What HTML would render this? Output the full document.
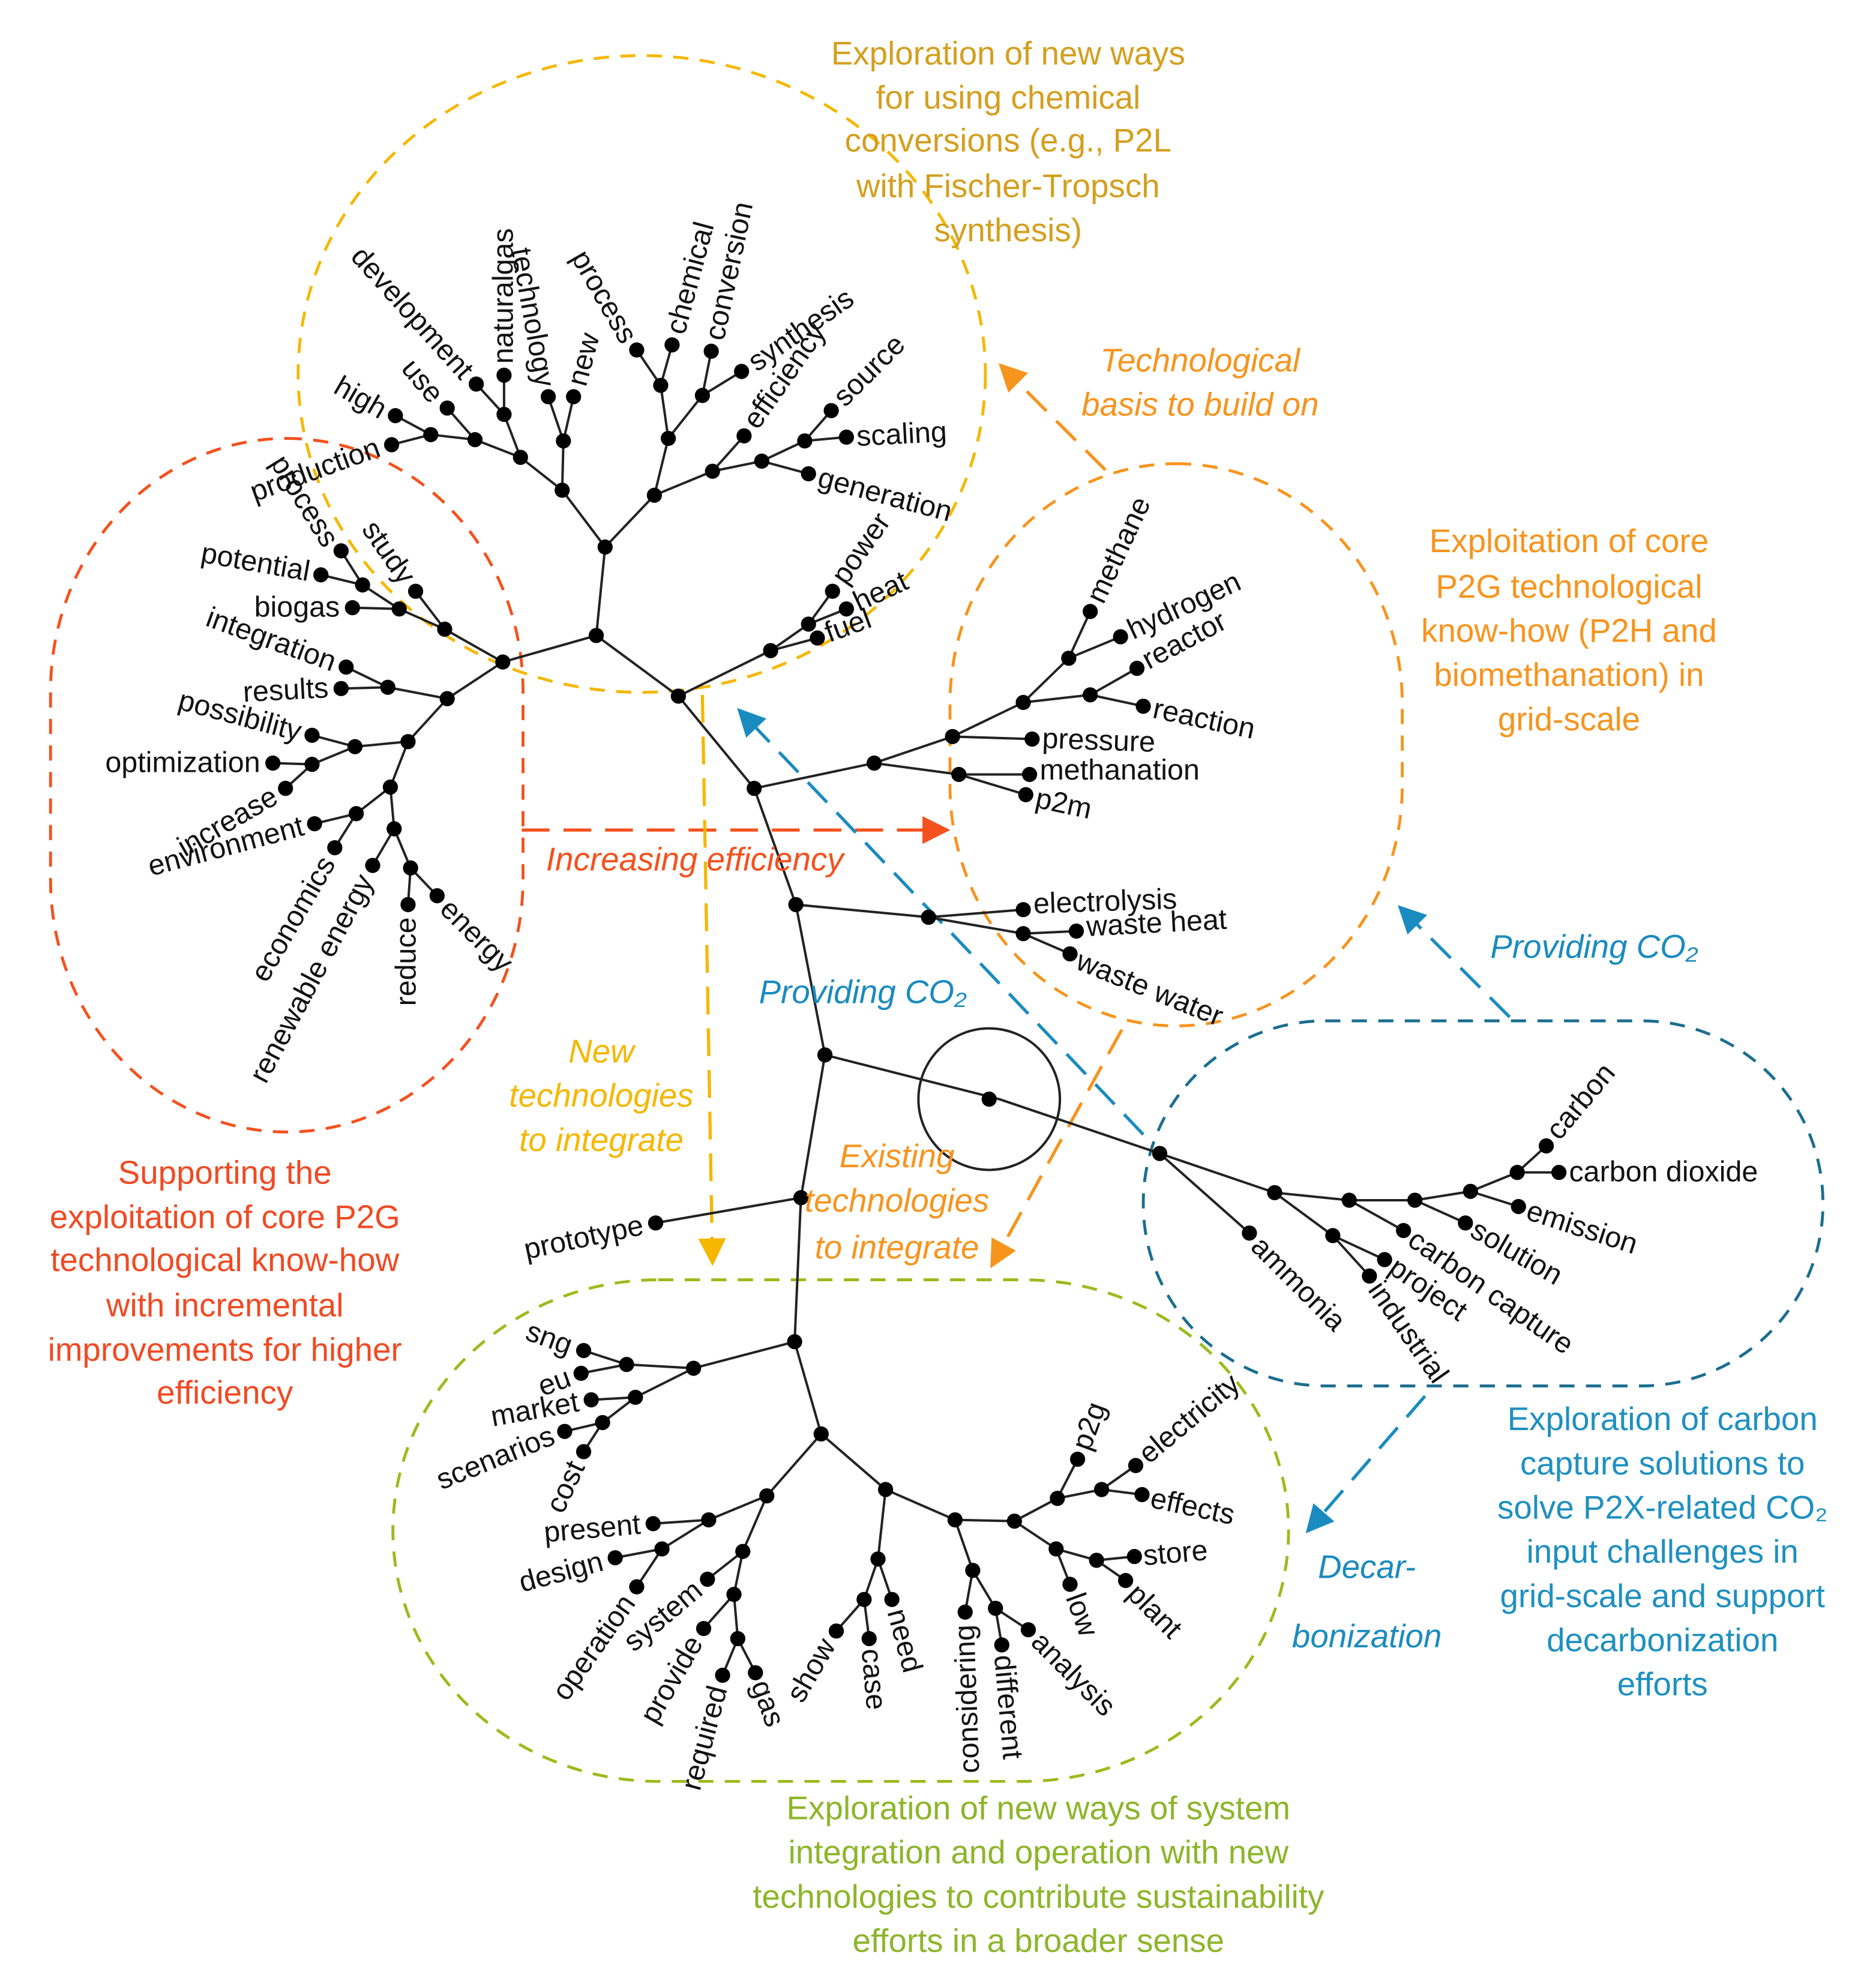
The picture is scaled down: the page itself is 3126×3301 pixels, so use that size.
<!DOCTYPE html>
<html><head><meta charset="utf-8"><style>
html,body{margin:0;padding:0;background:#fff}
svg{display:block}
.n{font-family:"Liberation Sans",sans-serif;font-size:23px;fill:#111}
.a{font-family:"Liberation Sans",sans-serif;font-size:26px;text-anchor:middle}
.i{font-style:italic}
.e line,.e path{stroke:#222;stroke-width:1.9;fill:none}
</style></head><body>
<svg width="3126" height="3301" viewBox="0 0 1485 1568" preserveAspectRatio="none" xmlns="http://www.w3.org/2000/svg">
<defs>
<marker id="mr" viewBox="0 0 10 10" refX="9" refY="5" markerWidth="22" markerHeight="22" orient="auto" markerUnits="userSpaceOnUse"><path d="M0,0L10,5L0,10z" fill="#F4511E"/></marker>
<marker id="my" viewBox="0 0 10 10" refX="9" refY="5" markerWidth="22" markerHeight="22" orient="auto" markerUnits="userSpaceOnUse"><path d="M0,0L10,5L0,10z" fill="#F5B700"/></marker>
<marker id="mo2" viewBox="0 0 10 10" refX="9" refY="5" markerWidth="22" markerHeight="22" orient="auto" markerUnits="userSpaceOnUse"><path d="M0,0L10,5L0,10z" fill="#F7941D"/></marker>
<marker id="mb" viewBox="0 0 10 10" refX="9" refY="5" markerWidth="22" markerHeight="22" orient="auto" markerUnits="userSpaceOnUse"><path d="M0,0L10,5L0,10z" fill="#1A8BBF"/></marker>
</defs>

<g fill="none" stroke-width="2.3" stroke-dasharray="12 9">
<ellipse cx="508" cy="296" rx="272" ry="252" stroke="#F5B700"/>
<rect x="40" y="347" width="374" height="549" rx="187" ry="200" stroke="#F4511E"/>
<rect x="752" y="367" width="358" height="445" rx="179" ry="190" stroke="#F7941D"/>
<rect x="905" y="808" width="538" height="289" rx="144" ry="144" stroke="#1B6E8F"/>
<rect x="311" y="1013" width="709" height="397" rx="210" ry="200" stroke="#9BBB1C"/>
</g>

<g fill="none" stroke-width="2.5" stroke-dasharray="22 11">
<line x1="875" y1="372" x2="792" y2="289" stroke="#F7941D" marker-end="url(#mo2)"/>
<line x1="413" y1="657" x2="750" y2="657" stroke="#F4511E" marker-end="url(#mr)"/>
<line x1="556" y1="550" x2="564" y2="1000" stroke="#F5B700" marker-end="url(#my)"/>
<line x1="888" y1="815" x2="785" y2="1002" stroke="#F7941D" marker-end="url(#mo2)"/>
<line x1="905" y1="898" x2="585" y2="562" stroke="#1A8BBF" marker-end="url(#mb)"/>
<line x1="1195" y1="805" x2="1108" y2="718" stroke="#1A8BBF" marker-end="url(#mb)"/>
<line x1="1128" y1="1105" x2="1035" y2="1212" stroke="#1A8BBF" marker-end="url(#mb)"/>
</g>

<g class="e">
<path d="M472,503L479,433 M479,433L445,388 M479,433L518,392 M445,388L412,362 M445,388L446,349 M446,349L434,314 M446,349L454,314 M412,362L399,328 M399,328L399,297 M399,328L377,304 M412,362L376,348 M376,348L354,323 M376,348L341,344 M341,344L313,329 M341,344L310,352
M518,392L529,347 M529,347L523,305 M523,305L504,277 M523,305L532,273 M529,347L556,313 M556,313L563,278 M556,313L587,294 M518,392L564,373 M564,373L589,345 M564,373L603,365 M603,365L637,349 M637,349L658,325 M637,349L670,346 M603,365L640,375
M472,503L537,551 M537,551L610,515 M610,515L640,494 M640,494L659,468 M640,494L670,482 M610,515L647,505
M472,503L398,524 M398,524L352,498 M352,498L316,482 M316,482L287,463 M287,463L270,436 M287,463L254,455 M316,482L279,481 M352,498L329,468
M398,524L354,553 M354,553L307,544 M307,544L274,528 M307,544L270,545 M354,553L323,587 M323,587L281,591 M281,591L247,582 M281,591L247,605 M247,605L216,604 M247,605L226,624
M323,587L309,623 M309,623L282,644 M282,644L249,652 M282,644L265,671 M309,623L312,656 M312,656L295,685 M312,656L325,687 M325,687L323,716 M325,687L346,709
M537,551L597,624 M597,624L692,604 M692,604L754,583 M754,583L810,556 M810,556L846,521 M846,521L863,484 M846,521L887,504 M810,556L863,550 M863,550L900,529 M863,550L905,559 M754,583L817,585 M692,604L759,613 M759,613L815,613 M759,613L812,629
M597,624L630,716 M630,716L735,726 M735,726L810,720 M735,726L810,739 M810,739L852,737 M810,739L847,755
M630,716L653,835 M653,835L634,948 M634,948L629,1062 M629,1062L650,1135 M634,948L519,968
M653,835L791,870 M791,870L918,913
M918,913L1009,944 M1009,944L1068,950 M1068,950L1120,950 M1120,950L1164,943 M1164,943L1201,928 M1201,928L1224,907 M1201,928L1234,928 M1164,943L1202,955 M1120,950L1160,968 M1068,950L1111,974 M918,913L989,976 M1009,944L1055,978 M1055,978L1096,997 M1055,978L1084,1010
M629,1062L549,1083 M549,1083L496,1080 M496,1080L462,1069 M496,1080L460,1087 M549,1083L503,1106 M503,1106L468,1108 M503,1106L477,1126 M477,1126L447,1133 M477,1126L462,1149
M650,1135L607,1184 M607,1184L561,1203 M561,1203L517,1206 M561,1203L524,1226 M524,1226L487,1233 M524,1226L504,1256 M607,1184L588,1228 M588,1228L560,1250 M588,1228L581,1262 M581,1262L557,1289 M581,1262L584,1297 M584,1297L572,1326 M584,1297L598,1324
M650,1135L701,1179 M701,1179L695,1234 M695,1234L684,1266 M684,1266L662,1291 M684,1266L688,1297 M695,1234L706,1266
M701,1179L756,1203 M756,1203L770,1243 M770,1243L764,1276 M770,1243L788,1273 M788,1273L793,1302 M788,1273L814,1290
M756,1203L803,1204 M803,1204L837,1186 M837,1186L853,1155 M837,1186L872,1179 M872,1179L899,1160 M872,1179L904,1183 M803,1204L836,1226 M836,1226L868,1235 M868,1235L898,1232 M868,1235L891,1251 M836,1226L847,1254"/>
</g>
<circle cx="783" cy="870" r="56" fill="none" stroke="#222" stroke-width="1.9"/>

<g fill="#000">
<circle cx="472" cy="503" r="6"/><circle cx="479" cy="433" r="6"/><circle cx="445" cy="388" r="6"/><circle cx="518" cy="392" r="6"/><circle cx="412" cy="362" r="6"/><circle cx="446" cy="349" r="6"/><circle cx="434" cy="314" r="6"/><circle cx="454" cy="314" r="6"/><circle cx="399" cy="328" r="6"/><circle cx="399" cy="297" r="6"/><circle cx="377" cy="304" r="6"/><circle cx="376" cy="348" r="6"/><circle cx="354" cy="323" r="6"/><circle cx="341" cy="344" r="6"/><circle cx="313" cy="329" r="6"/><circle cx="310" cy="352" r="6"/>
<circle cx="529" cy="347" r="6"/><circle cx="523" cy="305" r="6"/><circle cx="504" cy="277" r="6"/><circle cx="532" cy="273" r="6"/><circle cx="556" cy="313" r="6"/><circle cx="563" cy="278" r="6"/><circle cx="587" cy="294" r="6"/><circle cx="564" cy="373" r="6"/><circle cx="589" cy="345" r="6"/><circle cx="603" cy="365" r="6"/><circle cx="637" cy="349" r="6"/><circle cx="658" cy="325" r="6"/><circle cx="670" cy="346" r="6"/><circle cx="640" cy="375" r="6"/>
<circle cx="537" cy="551" r="6"/><circle cx="610" cy="515" r="6"/><circle cx="640" cy="494" r="6"/><circle cx="659" cy="468" r="6"/><circle cx="670" cy="482" r="6"/><circle cx="647" cy="505" r="6"/>
<circle cx="398" cy="524" r="6"/><circle cx="352" cy="498" r="6"/><circle cx="316" cy="482" r="6"/><circle cx="287" cy="463" r="6"/><circle cx="270" cy="436" r="6"/><circle cx="254" cy="455" r="6"/><circle cx="279" cy="481" r="6"/><circle cx="329" cy="468" r="6"/>
<circle cx="354" cy="553" r="6"/><circle cx="307" cy="544" r="6"/><circle cx="274" cy="528" r="6"/><circle cx="270" cy="545" r="6"/><circle cx="323" cy="587" r="6"/><circle cx="281" cy="591" r="6"/><circle cx="247" cy="582" r="6"/><circle cx="247" cy="605" r="6"/><circle cx="216" cy="604" r="6"/><circle cx="226" cy="624" r="6"/>
<circle cx="309" cy="623" r="6"/><circle cx="282" cy="644" r="6"/><circle cx="249" cy="652" r="6"/><circle cx="265" cy="671" r="6"/><circle cx="312" cy="656" r="6"/><circle cx="295" cy="685" r="6"/><circle cx="325" cy="687" r="6"/><circle cx="323" cy="716" r="6"/><circle cx="346" cy="709" r="6"/>
<circle cx="597" cy="624" r="6"/><circle cx="692" cy="604" r="6"/><circle cx="754" cy="583" r="6"/><circle cx="810" cy="556" r="6"/><circle cx="846" cy="521" r="6"/><circle cx="863" cy="484" r="6"/><circle cx="887" cy="504" r="6"/><circle cx="863" cy="550" r="6"/><circle cx="900" cy="529" r="6"/><circle cx="905" cy="559" r="6"/><circle cx="817" cy="585" r="6"/><circle cx="759" cy="613" r="6"/><circle cx="815" cy="613" r="6"/><circle cx="812" cy="629" r="6"/>
<circle cx="630" cy="716" r="6"/><circle cx="735" cy="726" r="6"/><circle cx="810" cy="720" r="6"/><circle cx="810" cy="739" r="6"/><circle cx="852" cy="737" r="6"/><circle cx="847" cy="755" r="6"/>
<circle cx="653" cy="835" r="6"/><circle cx="634" cy="948" r="6"/><circle cx="629" cy="1062" r="6"/><circle cx="650" cy="1135" r="6"/><circle cx="519" cy="968" r="6"/><circle cx="783" cy="870" r="6"/>
<circle cx="918" cy="913" r="6"/><circle cx="1009" cy="944" r="6"/><circle cx="1068" cy="950" r="6"/><circle cx="1120" cy="950" r="6"/><circle cx="1164" cy="943" r="6"/><circle cx="1201" cy="928" r="6"/><circle cx="1224" cy="907" r="6"/><circle cx="1234" cy="928" r="6"/><circle cx="1202" cy="955" r="6"/><circle cx="1160" cy="968" r="6"/><circle cx="1111" cy="974" r="6"/><circle cx="989" cy="976" r="6"/><circle cx="1055" cy="978" r="6"/><circle cx="1096" cy="997" r="6"/><circle cx="1084" cy="1010" r="6"/>
<circle cx="549" cy="1083" r="6"/><circle cx="496" cy="1080" r="6"/><circle cx="462" cy="1069" r="6"/><circle cx="460" cy="1087" r="6"/><circle cx="503" cy="1106" r="6"/><circle cx="468" cy="1108" r="6"/><circle cx="477" cy="1126" r="6"/><circle cx="447" cy="1133" r="6"/><circle cx="462" cy="1149" r="6"/>
<circle cx="607" cy="1184" r="6"/><circle cx="561" cy="1203" r="6"/><circle cx="517" cy="1206" r="6"/><circle cx="524" cy="1226" r="6"/><circle cx="487" cy="1233" r="6"/><circle cx="504" cy="1256" r="6"/><circle cx="588" cy="1228" r="6"/><circle cx="560" cy="1250" r="6"/><circle cx="581" cy="1262" r="6"/><circle cx="557" cy="1289" r="6"/><circle cx="584" cy="1297" r="6"/><circle cx="572" cy="1326" r="6"/><circle cx="598" cy="1324" r="6"/>
<circle cx="701" cy="1179" r="6"/><circle cx="695" cy="1234" r="6"/><circle cx="684" cy="1266" r="6"/><circle cx="662" cy="1291" r="6"/><circle cx="688" cy="1297" r="6"/><circle cx="706" cy="1266" r="6"/>
<circle cx="756" cy="1203" r="6"/><circle cx="770" cy="1243" r="6"/><circle cx="764" cy="1276" r="6"/><circle cx="788" cy="1273" r="6"/><circle cx="793" cy="1302" r="6"/><circle cx="814" cy="1290" r="6"/>
<circle cx="803" cy="1204" r="6"/><circle cx="837" cy="1186" r="6"/><circle cx="853" cy="1155" r="6"/><circle cx="872" cy="1179" r="6"/><circle cx="899" cy="1160" r="6"/><circle cx="904" cy="1183" r="6"/><circle cx="836" cy="1226" r="6"/><circle cx="868" cy="1235" r="6"/><circle cx="898" cy="1232" r="6"/><circle cx="891" cy="1251" r="6"/><circle cx="847" cy="1254" r="6"/>
</g>

<g class="n" text-anchor="end">
<text transform="translate(304,326) rotate(30)" dy="7">high</text>
<text transform="translate(300,354) rotate(-20)" dy="7">production</text>
<text transform="translate(346,316) rotate(50)" dy="7">use</text>
<text transform="translate(370,297) rotate(48)" dy="7">development</text>
<text transform="translate(431,306) rotate(80)" dy="7">technology</text>
<text transform="translate(498,270) rotate(60)" dy="7">process</text>
<text transform="translate(262,431) rotate(58)" dy="7">process</text>
<text transform="translate(245,453) rotate(10)" dy="7">potential</text>
<text transform="translate(269,481)" dy="7">biogas</text>
<text transform="translate(323,460) rotate(55)" dy="7">study</text>
<text transform="translate(265,525) rotate(20)" dy="7">integration</text>
<text transform="translate(260,545) rotate(-3)" dy="7">results</text>
<text transform="translate(238,580) rotate(15)" dy="7">possibility</text>
<text transform="translate(206,604)" dy="7">optimization</text>
<text transform="translate(218,629) rotate(-30)" dy="7">increase</text>
<text transform="translate(240,654) rotate(-15)" dy="7">environment</text>
<text transform="translate(260,680) rotate(-60)" dy="7">economics</text>
<text transform="translate(290,694) rotate(-62)" dy="7">renewable energy</text>
<text transform="translate(322,726) rotate(-90)" dy="7">reduce</text>
<text transform="translate(509,970) rotate(-12)" dy="7">prototype</text>
<text transform="translate(452,1066) rotate(20)" dy="7">sng</text>
<text transform="translate(451,1090) rotate(-20)" dy="7">eu</text>
<text transform="translate(458,1110) rotate(-10)" dy="7">market</text>
<text transform="translate(438,1136) rotate(-22)" dy="7">scenarios</text>
<text transform="translate(457,1158) rotate(-65)" dy="7">cost</text>
<text transform="translate(507,1207) rotate(-5)" dy="7">present</text>
<text transform="translate(477,1236) rotate(-15)" dy="7">design</text>
<text transform="translate(498,1265) rotate(-55)" dy="7">operation</text>
<text transform="translate(553,1256) rotate(-40)" dy="7">system</text>
<text transform="translate(551,1297) rotate(-60)" dy="7">provide</text>
<text transform="translate(569,1335) rotate(-75)" dy="7">required</text>
<text transform="translate(656,1299) rotate(-60)" dy="7">show</text>
<text transform="translate(764,1286) rotate(-92)" dy="7">considering</text>
</g>
<g class="n">
<text transform="translate(399,288) rotate(-90)" dy="7">naturalgas</text>
<text transform="translate(457,305) rotate(-75)" dy="7">new</text>
<text transform="translate(535,264) rotate(-75)" dy="7">chemical</text>
<text transform="translate(566,269) rotate(-78)" dy="7">conversion</text>
<text transform="translate(595,289) rotate(-35)" dy="7">synthesis</text>
<text transform="translate(594,337) rotate(-55)" dy="7">efficiency</text>
<text transform="translate(664,318) rotate(-45)" dy="7">source</text>
<text transform="translate(678,346) rotate(-3)" dy="7">scaling</text>
<text transform="translate(648,378) rotate(15)" dy="7">generation</text>
<text transform="translate(664,460) rotate(-55)" dy="7">power</text>
<text transform="translate(677,478) rotate(-25)" dy="7">heat</text>
<text transform="translate(654,502) rotate(-20)" dy="7">fuel</text>
<text transform="translate(352,716) rotate(45)" dy="7">energy</text>
<text transform="translate(867,476) rotate(-65)" dy="7">methane</text>
<text transform="translate(894,500) rotate(-25)" dy="7">hydrogen</text>
<text transform="translate(906,524) rotate(-28)" dy="7">reactor</text>
<text transform="translate(913,561) rotate(12)" dy="7">reaction</text>
<text transform="translate(825,585) rotate(2)" dy="7">pressure</text>
<text transform="translate(823,610)" dy="7">methanation</text>
<text transform="translate(820,632) rotate(12)" dy="7">p2m</text>
<text transform="translate(818,716) rotate(-2)" dy="7">electrolysis</text>
<text transform="translate(860,734) rotate(-3)" dy="7">waste heat</text>
<text transform="translate(853,760) rotate(22)" dy="7">waste water</text>
<text transform="translate(1229,899) rotate(-50)" dy="7">carbon</text>
<text transform="translate(1242,928)" dy="7">carbon dioxide</text>
<text transform="translate(1209,958) rotate(18)" dy="7">emission</text>
<text transform="translate(1166,972) rotate(30)" dy="7">solution</text>
<text transform="translate(1117,979) rotate(35)" dy="7">carbon capture</text>
<text transform="translate(994,983) rotate(45)" dy="7">ammonia</text>
<text transform="translate(1102,1001) rotate(35)" dy="7">project</text>
<text transform="translate(1088,1017) rotate(55)" dy="7">industrial</text>
<text transform="translate(601,1331) rotate(70)" dy="7">gas</text>
<text transform="translate(689,1305) rotate(85)" dy="7">case</text>
<text transform="translate(709,1274) rotate(75)" dy="7">need</text>
<text transform="translate(794,1310) rotate(85)" dy="7">different</text>
<text transform="translate(820,1296) rotate(45)" dy="7">analysis</text>
<text transform="translate(856,1147) rotate(-70)" dy="7">p2g</text>
<text transform="translate(905,1154) rotate(-40)" dy="7">electricity</text>
<text transform="translate(911,1186) rotate(12)" dy="7">effects</text>
<text transform="translate(905,1232) rotate(-5)" dy="7">store</text>
<text transform="translate(896,1258) rotate(45)" dy="7">plant</text>
<text transform="translate(850,1262) rotate(70)" dy="7">low</text>
</g>

<g class="a" fill="#D49F1E">
<text x="798" y="51">Exploration of new ways</text>
<text x="798" y="86">for using chemical</text>
<text x="798" y="120">conversions (e.g., P2L</text>
<text x="798" y="156">with Fischer-Tropsch</text>
<text x="798" y="191">synthesis)</text>
</g>
<g class="a i" fill="#F7941D">
<text x="950" y="294">Technological</text>
<text x="950" y="329">basis to build on</text>
<text x="710" y="924">Existing</text>
<text x="710" y="959">technologies</text>
<text x="710" y="996">to integrate</text>
</g>
<g class="a" fill="#F7941D">
<text x="1242" y="437">Exploitation of core</text>
<text x="1242" y="473">P2G technological</text>
<text x="1242" y="508">know-how (P2H and</text>
<text x="1242" y="543">biomethanation) in</text>
<text x="1242" y="578">grid-scale</text>
</g>
<g class="a i" fill="#1A8BBF">
<text x="1262" y="758">Providing CO₂</text>
<text x="683" y="794">Providing CO₂</text>
<text x="1082" y="1249">Decar-</text>
<text x="1082" y="1304">bonization</text>
</g>
<g class="a i" fill="#F4511E"><text x="550" y="689">Increasing efficiency</text></g>
<g class="a i" fill="#F5B700">
<text x="476" y="841">New</text>
<text x="476" y="876">technologies</text>
<text x="476" y="911">to integrate</text>
</g>
<g class="a" fill="#F04A23">
<text x="178" y="937">Supporting the</text>
<text x="178" y="972">exploitation of core P2G</text>
<text x="178" y="1006">technological know-how</text>
<text x="178" y="1042">with incremental</text>
<text x="178" y="1077">improvements for higher</text>
<text x="178" y="1111">efficiency</text>
</g>
<g class="a" fill="#1E90C0">
<text x="1316" y="1132">Exploration of carbon</text>
<text x="1316" y="1167">capture solutions to</text>
<text x="1316" y="1202">solve P2X-related CO₂</text>
<text x="1316" y="1237">input challenges in</text>
<text x="1316" y="1272">grid-scale and support</text>
<text x="1316" y="1307">decarbonization</text>
<text x="1316" y="1342">efforts</text>
</g>
<g class="a" fill="#8DB52A">
<text x="822" y="1440">Exploration of new ways of system</text>
<text x="822" y="1475">integration and operation with new</text>
<text x="822" y="1510">technologies to contribute sustainability</text>
<text x="822" y="1545">efforts in a broader sense</text>
</g>
</svg>
</body></html>
